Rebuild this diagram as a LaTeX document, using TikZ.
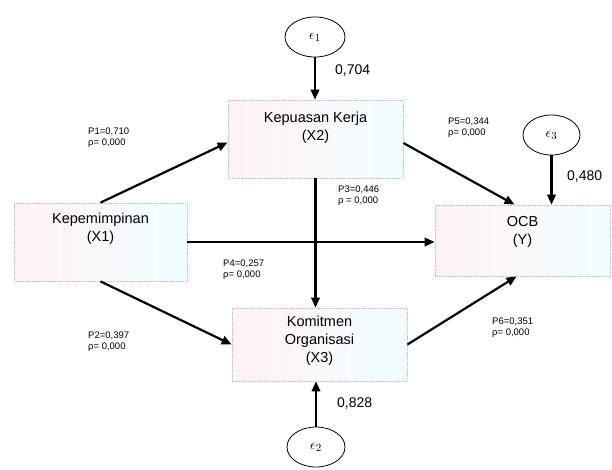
\documentclass[tikz,border=0pt]{standalone}
\usepackage{fontspec}
\setmainfont{Liberation Sans}
\usetikzlibrary{arrows.meta,shapes.geometric}
\begin{document}
\begin{tikzpicture}[x=1pt,y=-1pt,
  var/.style={draw=gray!55, densely dotted, line width=0.8pt,
    left color=red!5, right color=cyan!5, inner sep=0pt},
  vartext/.style={align=center, inner sep=0pt,
    font=\fontsize{14.5}{18}\selectfont},
  err/.style={ellipse, draw, line width=0.8pt, inner sep=0pt,
    minimum width=60pt, minimum height=40pt, font=\fontsize{15}{16}\selectfont},
  path/.style={line width=2.2pt, -{Triangle[length=10pt,width=8.5pt]}},
  coef/.style={align=left, anchor=north west, inner sep=0pt,
    font=\fontsize{9.5}{10.5}\selectfont},
  load/.style={anchor=west, inner sep=0pt, font=\fontsize{14}{16}\selectfont}
]
\useasboundingbox (0,0) rectangle (612,469);

% latent variables
\node[var, minimum width=173pt, minimum height=78pt] (x1) at (100.5,242) {};
\node[var, minimum width=175pt, minimum height=78pt] (x2) at (315.5,139) {};
\node[var, minimum width=175pt, minimum height=73pt] (x3) at (319.5,344.5) {};
\node[var, minimum width=175pt, minimum height=71pt] (y) at (522.5,240.5) {};

\node[vartext] (t1) at ([yshift=13.5pt]x1.center) {Kepemimpinan\\(X1)};
\node[vartext] (t2) at ([yshift=11pt]x2.center) {Kepuasan Kerja\\(X2)};
\node[vartext] (t3) at ([yshift=4pt]x3.center) {Komitmen\\Organisasi\\(X3)};
\node[vartext] (ty) at ([yshift=9pt]y.center) {OCB\\(Y)};

% error terms
\node[err] (e1) at (315,37) {$\epsilon_1$};
\node[err, minimum width=58pt] (e2) at (316,447) {$\epsilon_2$};
\node[err, minimum width=57pt] (e3) at (551.5,135) {$\epsilon_3$};

% structural paths
\draw[path] (x1.north) -- ([yshift=-3.5pt]x2.west);
\draw[path] (x1.south) -- (x3.west);
\draw[path] (x1.east) -- (x1.east -| y.west);
\draw[path] (x2.south) -- (x2.south |- x3.north);
\draw[path] ([yshift=-4pt]x2.east) -- ([xshift=-8pt]y.north);
\draw[path] (x3.east) -- ([xshift=-6pt]y.south);

% residual paths
\draw[path] (e1.south) -- (e1.south |- x2.north);
\draw[path] (e3.south) -- (e3.south |- y.north);
\draw[path] (e2.north) -- (e2.north |- x3.south);

% coefficients
\node[coef] (c1) at (88,128) {P1=0,710\\ρ= 0,000};
\node[coef] (c2) at (88,332) {P2=0,397\\ρ= 0,000};
\node[coef] (c3) at (338,186) {P3=0,446\\ρ = 0,000};
\node[coef] (c4) at (223,260) {P4=0,257\\ρ= 0,000};
\node[coef] (c5) at (448,118) {P5=0,344\\ρ= 0,000};
\node[coef] (c6) at (492,318) {P6=0,351\\ρ= 0,000};

\node[load] (l1) at (335,71) {0,704};
\node[load] (l3) at (567,177) {0,480};
\node[load] (l2) at (337,403) {0,828};
\end{tikzpicture}
\end{document}
